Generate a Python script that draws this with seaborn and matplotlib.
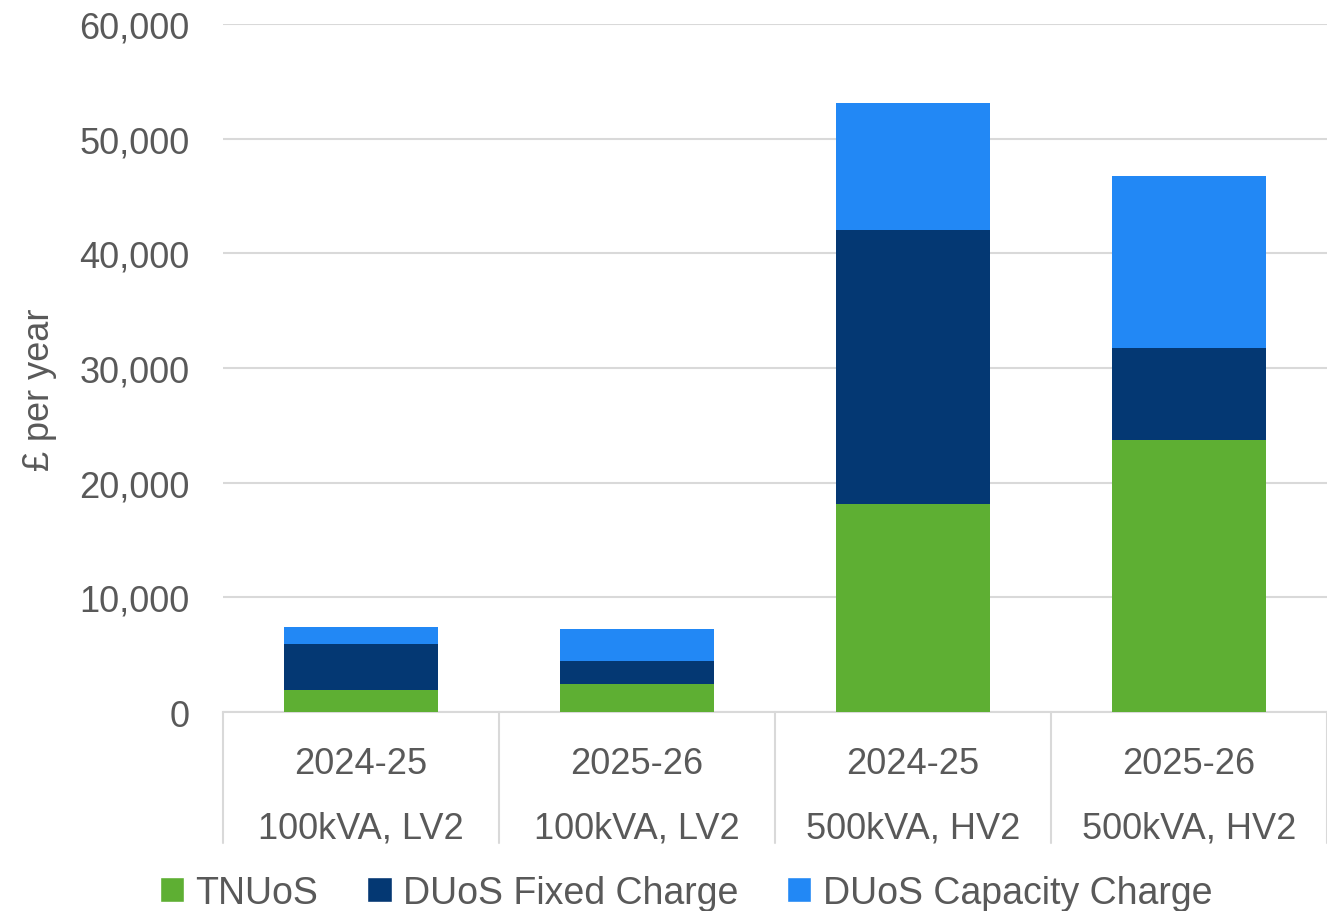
import numpy as np
import pandas as pd
import seaborn as sns
import matplotlib.pyplot as plt
from matplotlib.ticker import FuncFormatter
from matplotlib.patches import Patch

# data
years = ["2024-25", "2025-26", "2024-25", "2025-26"]
sites = ["100kVA, LV2", "100kVA, LV2", "500kVA, HV2", "500kVA, HV2"]
tnuos = [1940, 2490, 18110, 23750]
duos_fixed = [3990, 2010, 23970, 7960]
duos_capacity = [1480, 2740, 11020, 15040]

series = ["TNUoS", "DUoS Fixed Charge", "DUoS Capacity Charge"]
colours = ["#5EAF33", "#043873", "#2288F5"]
grey = "#595959"
line_grey = "#D9D9D9"

cats = [f"{y}\n{s}" for y, s in zip(years, sites)]
df = pd.DataFrame({"cat": cats, "TNUoS": tnuos, "DUoS Fixed Charge": duos_fixed,
                   "DUoS Capacity Charge": duos_capacity})
# cumulative tops so the layers can be overlaid (top layer drawn first)
df["top_tnuos"] = df["TNUoS"]
df["top_fixed"] = df["TNUoS"] + df["DUoS Fixed Charge"]
df["top_cap"] = df["top_fixed"] + df["DUoS Capacity Charge"]

sns.set_style("white")
plt.rcParams["font.family"] = ["Liberation Sans", "DejaVu Sans"]

fig = plt.figure(figsize=(13.27, 9.12), dpi=100)
ax = fig.add_axes([0.168, 0.218, 0.832, 0.7546])

for col, c in zip(["top_cap", "top_fixed", "top_tnuos"], colours[::-1]):
    sns.barplot(data=df, x="cat", y=col, color=c, width=0.56, ax=ax,
                saturation=1, edgecolor="none", errorbar=None, zorder=3)

ax.set_ylim(0, 60000)
ax.set_xlim(-0.5, 3.5)
ax.set_yticks(np.arange(0, 60001, 10000))
ax.yaxis.set_major_formatter(FuncFormatter(lambda v, p: f"{int(v):,}"))
ax.grid(axis="y", color=line_grey, linewidth=1.5, zorder=0)
ax.set_axisbelow(True)
for s in ["left", "right", "top"]:
    ax.spines[s].set_visible(False)
ax.spines["bottom"].set_color(line_grey)
ax.spines["bottom"].set_linewidth(1.5)

ax.tick_params(axis="y", length=0, pad=24, labelsize=26, labelcolor=grey)
ax.tick_params(axis="x", length=0, pad=24, labelsize=26, labelcolor=grey)
for lab in ax.get_xticklabels():
    lab.set_linespacing(2.1)
ax.set_xlabel("")
ax.set_ylabel("£ per year", fontsize=26, color=grey)
ax.yaxis.set_label_coords(-0.15, 0.47)

# category separators below the axis
for xv in np.arange(-0.5, 4.0, 1.0):
    ax.plot([xv, xv], [0, -0.19], color=line_grey, linewidth=1.5,
            transform=ax.get_xaxis_transform(), clip_on=False)

handles = [Patch(facecolor=c, label=s) for s, c in zip(series, colours)]
fig.legend(handles=handles, loc="lower center", bbox_to_anchor=(0.517, -0.037),
           ncol=3, frameon=False, fontsize=27, handlelength=0.65, handleheight=0.65,
           handletextpad=0.3, columnspacing=1.3, labelcolor=grey)

fig.savefig("out.png", dpi=100)
